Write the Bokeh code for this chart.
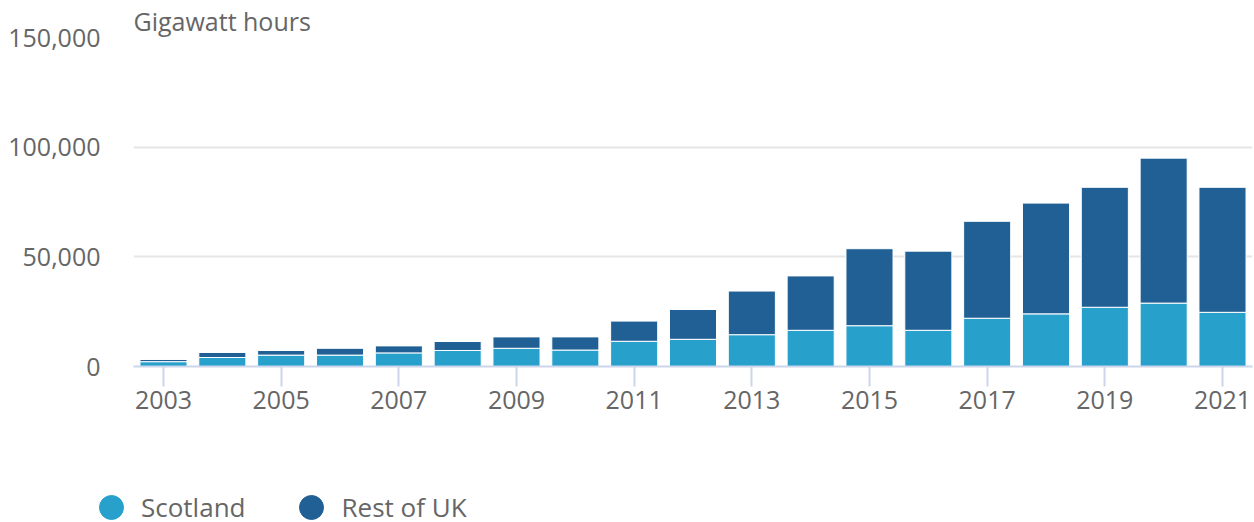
from bokeh.plotting import figure
from bokeh.layouts import column
from bokeh.models import (ColumnDataSource, Range1d, FixedTicker, NumeralTickFormatter,
                          Legend, LegendItem)
from bokeh.embed import file_html
from bokeh.resources import INLINE

years = [2003, 2004, 2005, 2006, 2007, 2008, 2009, 2010, 2011, 2012,
         2013, 2014, 2015, 2016, 2017, 2018, 2019, 2020, 2021]
scotland = [2200, 4100, 5200, 5200, 6200, 7300, 8300, 7500, 11500, 12400,
            14500, 16500, 18600, 16500, 22000, 24000, 27000, 28900, 24700]
rest_of_uk = [1000, 2300, 2100, 3100, 3200, 4100, 5200, 6000, 9200, 13600,
              19900, 24800, 35100, 36100, 44200, 50500, 54700, 66100, 57000]
series_names = ["Scotland", "Rest of UK"]
series_colors = ["#27a0cc", "#206095"]
y_ticks = [0, 50000, 100000, 150000]
x_ticks = years[::2]
unit_label = "Gigawatt hours"

FONT = "Open Sans"
GREY = "#666666"

source = ColumnDataSource(dict(year=years, scotland=scotland, rest=rest_of_uk))

p = figure(width=1254, height=440, output_backend="svg", toolbar_location=None,
           x_range=Range1d(2002.49, 2021.51), y_range=Range1d(0, 150000),
           min_border_left=133, min_border_right=2, min_border_top=37,
           min_border_bottom=74, title=unit_label)
p.outline_line_color = None
p.background_fill_color = "white"
p.border_fill_color = "white"

# unit label as title
p.title.align = "left"
p.title.offset = 0
p.title.standoff = 0
p.title.text_font = FONT
p.title.text_font_size = "25px"
p.title.text_font_style = "normal"
p.title.text_color = GREY

p.vbar_stack(["scotland", "rest"], x="year", width=0.8, source=source,
             color=series_colors, line_color="white", line_width=1)

# grid
p.xgrid.grid_line_color = None
p.ygrid.grid_line_color = "#e6e6e6"
p.ygrid.grid_line_width = 2
p.ygrid.ticker = FixedTicker(ticks=y_ticks)

# y axis
p.yaxis.ticker = FixedTicker(ticks=y_ticks)
p.yaxis.formatter = NumeralTickFormatter(format="0,0")
p.yaxis.axis_line_color = None
p.yaxis.major_tick_line_color = None
p.yaxis.minor_tick_line_color = None
p.yaxis.major_tick_out = 0
p.yaxis.major_tick_in = 0
p.yaxis.major_label_standoff = 33
p.yaxis.major_label_text_font = FONT
p.yaxis.major_label_text_font_size = "25px"
p.yaxis.major_label_text_color = GREY

# x axis
p.xaxis.ticker = FixedTicker(ticks=x_ticks)
p.xaxis.axis_line_color = "#ccd6eb"
p.xaxis.axis_line_width = 2
p.xaxis.major_tick_line_color = "#ccd6eb"
p.xaxis.major_tick_line_width = 2
p.xaxis.major_tick_out = 20
p.xaxis.major_tick_in = 0
p.xaxis.minor_tick_line_color = None
p.xaxis.major_label_standoff = 4
p.xaxis.major_label_text_font = FONT
p.xaxis.major_label_text_font_size = "25px"
p.xaxis.major_label_text_color = GREY

# legend figure (frame covers the whole figure so nothing is clipped)
lg = figure(width=1254, height=82, output_backend="svg", toolbar_location=None,
            x_axis_type=None, y_axis_type=None, min_border=0,
            x_range=Range1d(0, 1), y_range=Range1d(0, 1))
lg.outline_line_color = None
lg.xgrid.grid_line_color = None
lg.ygrid.grid_line_color = None
legend_x = -52
for fig in (p, lg):
    if "frame_align" in fig.properties():
        fig.frame_align = False
        legend_x = 81

nan = float("nan")
leg_items = []
for name, col in zip(series_names, series_colors):
    dummy = ColumnDataSource(dict(x=[nan], y=[nan]))
    r = lg.scatter("x", "y", source=dummy, marker="circle", size=27,
                   fill_color=col, line_color=col)
    leg_items.append(LegendItem(label=name, renderers=[r], index=0))
legend = Legend(items=leg_items, orientation="horizontal", location=(legend_x, -19),
                glyph_width=60, glyph_height=68, label_standoff=0, spacing=36,
                padding=0, margin=0, border_line_color=None,
                background_fill_alpha=0, label_text_font=FONT,
                label_text_font_size="26px", label_text_color=GREY)
lg.add_layout(legend, "center")

open("out.html", "w").write(file_html(column(p, lg), INLINE))
